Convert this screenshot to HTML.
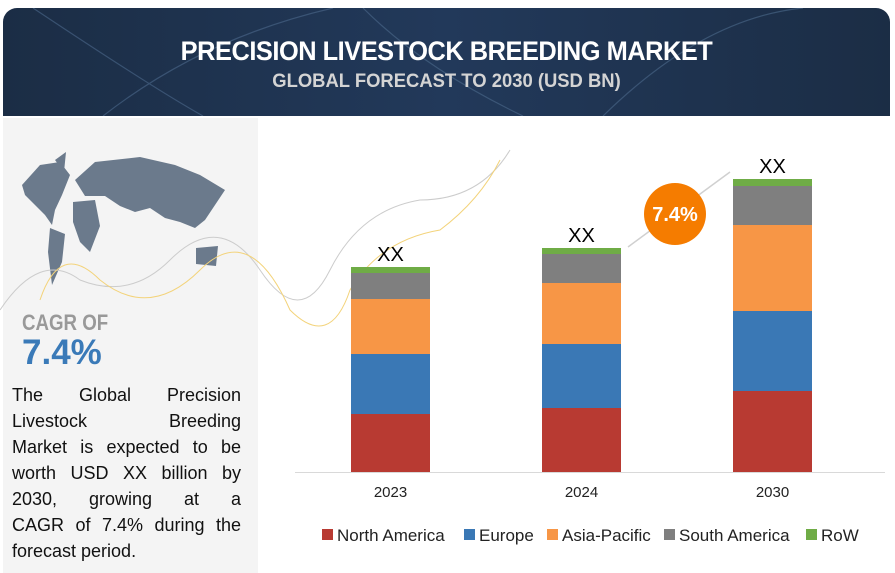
<!DOCTYPE html>
<html><head><meta charset="utf-8"><style>
body{margin:0;width:895px;height:573px;background:#fff;position:relative;overflow:hidden;font-family:"Liberation Sans",sans-serif}
#hdr{position:absolute;left:3px;top:8px;width:887px;height:108px;border-radius:14px 14px 0 0;background:linear-gradient(90deg,#1b2d45,#22395a 50%,#1b2d45);overflow:hidden}
#t1{position:absolute;top:28px;width:100%;text-align:center;color:#fff;font-weight:bold;font-size:27px;transform:scaleX(0.94);letter-spacing:-0.5px}
#t2{position:absolute;top:63px;width:100%;text-align:center;color:#d4d4d4;font-weight:bold;font-size:19px;transform:scaleX(0.97)}
#left{position:absolute;left:3px;top:118px;width:255px;height:455px;background:#f4f4f4}
#cagr{position:absolute;left:22px;top:310px;font-size:22px;font-weight:bold;color:#999;transform:scaleX(0.85);transform-origin:left}
#cval{position:absolute;left:22px;top:333px;font-size:35px;font-weight:bold;color:#3a7ab8}
#desc{position:absolute;left:12px;top:382px;width:229px;font-size:18px;line-height:26px;color:#111}
#desc span{display:block;text-align:justify;text-align-last:justify;white-space:nowrap}
#desc span.last{text-align-last:left}
</style></head><body>
<div id="hdr">
<svg width="887" height="108" style="position:absolute;left:0;top:0"><g stroke="#4d6a8c" fill="none" stroke-width="1.2" opacity="0.6"><path d="M30 0 Q150 80 200 108"/><path d="M360 0 Q420 60 520 108"/><path d="M600 108 Q700 10 800 0"/><path d="M100 108 Q200 30 330 0"/></g></svg>
<div id="t1">PRECISION LIVESTOCK BREEDING MARKET</div>
<div id="t2">GLOBAL FORECAST TO 2030 (USD BN)</div>
</div>
<div id="left"></div>
<svg width="895" height="573" style="position:absolute;left:0;top:0">
<path fill="#6b7a8c" d="M22 185 L40 165 L60 162 L70 175 L62 195 L55 210 L52 225 L45 215 L35 205 L25 195Z M55 160 L66 152 L64 172Z M75 180 L95 162 L140 157 L175 165 L200 175 L225 190 L215 205 L205 220 L195 228 L180 222 L165 218 L150 208 L135 212 L120 206 L105 196 L85 196Z M50 228 L65 234 L62 262 L52 285 L48 252Z M73 202 L95 200 L100 226 L90 252 L80 242 L73 222Z M196 248 L218 246 L216 266 L196 264Z"/>
<path d="M0 310 Q40 250 80 280 Q130 300 170 260 Q220 210 260 270 Q300 330 330 270 Q360 210 420 200 Q480 200 510 150" fill="none" stroke="#ccc" stroke-width="1"/>
<path d="M40 300 Q60 240 100 280 Q150 320 200 270 Q250 220 290 310 Q330 350 350 290 Q380 240 440 230 Q480 200 500 160" fill="none" stroke="#f3d37a" stroke-width="1"/>
</svg>
<div id="cagr">CAGR OF</div>
<div id="cval">7.4%</div>
<div id="desc"><span>The Global Precision</span><span>Livestock Breeding</span><span>Market is expected to be</span><span>worth USD XX billion by</span><span>2030, growing at a</span><span>CAGR of 7.4% during the</span><span class="last">forecast period.</span></div>
<svg id="chart" width="895" height="573" style="position:absolute;left:0;top:0"></svg>
<script>
const years=["2023","2024","2030"];
const northAmerica=[58,64,81];
const europe=[60,64,80];
const asiaPacific=[55,61,86];
const southAmerica=[26,29,39];
const row=[6,6,7];
const totals=["XX","XX","XX"];
const seriesNames=["North America","Europe","Asia-Pacific","South America","RoW"];
const series=[northAmerica,europe,asiaPacific,southAmerica,row];
const colors=["#b83a32","#3a78b5","#f79646","#7f7f7f","#6fac46"];
const ns="http://www.w3.org/2000/svg";
const svg=document.getElementById('chart');
const base=472,pxPer=1.0,x0=351,step=191,bw=79;
const y=v=>base-v*pxPer;
const xb=i=>x0+i*step;
function mk(t,a){const e=document.createElementNS(ns,t);for(const k in a)e.setAttribute(k,a[k]);svg.appendChild(e);return e;}
const ax=mk('line',{x1:295,x2:885,y1:base+0.5,y2:base+0.5,stroke:'#d9d9d9'});


years.forEach((yr,i)=>{
 let acc=0;
 series.forEach((s,j)=>{
  const r=mk('rect',{x:xb(i),width:bw,y:y(acc+s[i]),height:s[i]*pxPer,fill:colors[j]});
  
  
  acc+=s[i];
 });
 const tl=mk('text',{x:xb(i)+bw/2,y:y(acc)-6,'text-anchor':'middle','font-size':20,fill:'#000'});
 tl.textContent=totals[i];
 
 
 const xl=mk('text',{x:xb(i)+bw/2,y:497,'text-anchor':'middle','font-size':15,fill:'#222'});
 xl.textContent=yr;
 
 
});
const arr=mk('line',{x1:628,y1:247,x2:730,y2:172,stroke:'#d0d0d0','stroke-width':1.5});


const c=mk('circle',{cx:675,cy:214,r:31,fill:'#f57c00'});


const ct=mk('text',{x:675,y:221,'text-anchor':'middle','font-size':20,'font-weight':'bold',fill:'#fff'});
ct.textContent='7.4%';


const lxs=[322,464,547,664,806];
seriesNames.forEach((n,j)=>{
 const sw=mk('rect',{x:lxs[j],y:529,width:11,height:11,fill:colors[j]});
 
 
 const t=mk('text',{x:lxs[j]+15,y:541,'font-size':17,fill:'#222'});
 t.textContent=n;
 
 
});
</script>
</body></html>
